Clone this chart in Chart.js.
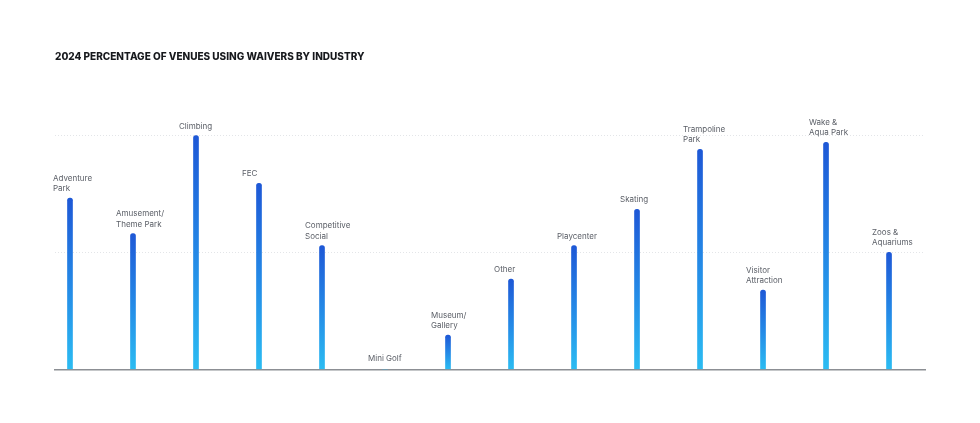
<!DOCTYPE html>
<html>
<head>
<meta charset="utf-8">
<script src="https://cdn.jsdelivr.net/npm/chart.js@4/dist/chart.umd.min.js"></script>
<style>
  html, body { margin: 0; padding: 0; background: #ffffff; }
  #wrap { width: 980px; height: 423px; position: relative; }
</style>
</head>
<body>
<div id="wrap"><canvas id="c"></canvas></div>
<script>
const title = "2024 PERCENTAGE OF VENUES USING WAIVERS BY INDUSTRY";
const categories = [
  ["Adventure", "Park"],
  ["Amusement/", "Theme Park"],
  ["Climbing"],
  ["FEC"],
  ["Competitive", "Social"],
  ["Mini Golf"],
  ["Museum/", "Gallery"],
  ["Other"],
  ["Playcenter"],
  ["Skating"],
  ["Trampoline", "Park"],
  ["Visitor", "Attraction"],
  ["Wake &", "Aqua Park"],
  ["Zoos &", "Aquariums"]
];
const values = [73.1, 58.0, 99.7, 79.4, 52.8, 0, 14.7, 38.6, 52.8, 68.3, 93.9, 33.9, 96.9, 50.0];
const gridValues = [50, 100];

const points = values.map((v, i) => ({ x: i, y: v }));

function barGradient(ctx) {
  const chart = ctx.chart;
  if (!chart.chartArea || !chart.scales.y || !ctx.raw) return '#1f5fd8';
  const y = chart.scales.y;
  const top = y.getPixelForValue(ctx.raw.y);
  const bot = y.getPixelForValue(0);
  if (bot - top < 1) return '#2ab8f0';
  const g = chart.ctx.createLinearGradient(0, top, 0, bot);
  g.addColorStop(0, '#1e58d6');
  g.addColorStop(0.5, '#2488e6');
  g.addColorStop(1, '#2bbcf2');
  return g;
}

const labelPlugin = {
  id: 'barLabels',
  afterDatasetsDraw(chart) {
    const c = chart.ctx;
    const meta = chart.getDatasetMeta(0);
    c.save();
    c.font = '400 8px Inter, "Noto Sans", sans-serif';
    c.fillStyle = '#5a5e66';
    c.textAlign = 'left';
    c.textBaseline = 'middle';
    const lh = 10.3;
    meta.data.forEach((el, i) => {
      const lines = categories[i];
      const baseY = values[i] > 0 ? el.y - 9.3 : el.base - 11;
      const x = el.x - 17;
      for (let k = 0; k < lines.length; k++) {
        const yy = baseY - (lines.length - 1 - k) * lh;
        c.fillText(lines[k], x, yy);
      }
    });
    c.restore();
  }
};

new Chart(document.getElementById('c'), {
  type: 'bar',
  data: {
    datasets: [{
      data: points,
      backgroundColor: barGradient,
      barThickness: 5,
      borderRadius: { topLeft: 2.5, topRight: 2.5, bottomLeft: 0, bottomRight: 0 },
      borderSkipped: 'start'
    }]
  },
  options: {
    responsive: true,
    maintainAspectRatio: false,
    animation: false,
    layout: { padding: { left: 55, right: 55, top: 0, bottom: 53.5 } },
    plugins: {
      legend: { display: false },
      tooltip: { enabled: false },
      title: {
        display: true,
        text: title,
        align: 'start',
        color: '#17191d',
        font: { family: 'Inter, "Noto Sans", sans-serif', size: 10, weight: '800' },
        padding: { top: 51, bottom: 72 }
      }
    },
    scales: {
      x: {
        type: 'linear',
        min: -0.238,
        max: 13.571,
        offset: false,
        ticks: { display: false },
        grid: { display: false, drawTicks: false },
        border: { display: true, color: '#8c8f94', width: 1.5 }
      },
      y: {
        min: 0,
        max: 100,
        afterBuildTicks(scale) {
          scale.ticks = [0].concat(gridValues).map(v => ({ value: v }));
        },
        ticks: { display: false },
        grid: {
          drawTicks: false,
          color: (ctx) => ctx.tick && ctx.tick.value === 0 ? 'rgba(0,0,0,0)' : '#e3e5e8',
          lineWidth: 1
        },
        border: { display: false, dash: [1, 2] }
      }
    }
  },
  plugins: [labelPlugin]
});
</script>
</body>
</html>
